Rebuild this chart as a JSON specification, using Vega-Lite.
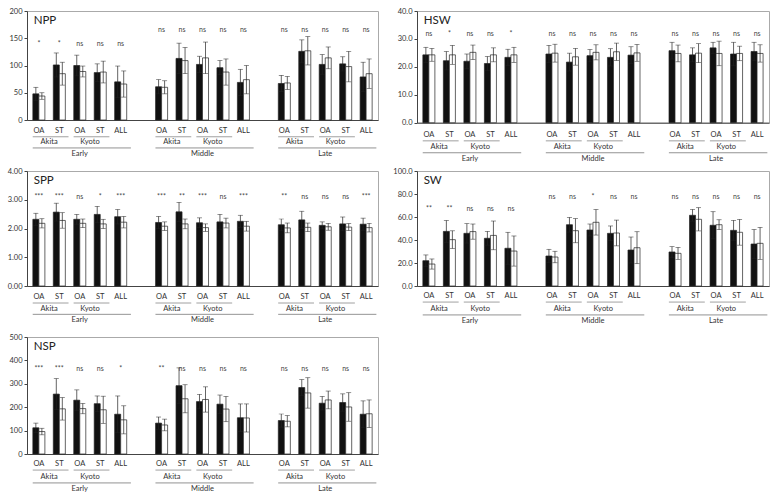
{
"$schema":"https://vega.github.io/schema/vega-lite/v6.json",
"padding":{"left":6,"top":6,"right":0,"bottom":0},
"config":{"font":"Lato","view":{"stroke":"#aaaaaa","strokeWidth":1},"axis":{"labelFontSize":7.5,"labelColor":"#333333","domainColor":"#444444","tickColor":"#444444","tickSize":3,"labelPadding":2,"grid":false},"text":{"font":"Lato"}},
"datasets":{
"bars":[
{"p":"NPP","cat":"E-A-OA","s":"A","v":48,"lo":36,"hi":60},{"p":"NPP","cat":"E-A-OA","s":"B","v":44,"lo":38,"hi":50},
{"p":"NPP","cat":"E-A-ST","s":"A","v":101,"lo":79,"hi":123},{"p":"NPP","cat":"E-A-ST","s":"B","v":85,"lo":64,"hi":106},
{"p":"NPP","cat":"E-K-OA","s":"A","v":100,"lo":81,"hi":119},{"p":"NPP","cat":"E-K-OA","s":"B","v":89,"lo":79,"hi":99},
{"p":"NPP","cat":"E-K-ST","s":"A","v":87,"lo":71,"hi":103},{"p":"NPP","cat":"E-K-ST","s":"B","v":88,"lo":68,"hi":108},
{"p":"NPP","cat":"E-ALL","s":"A","v":70,"lo":41,"hi":99},{"p":"NPP","cat":"E-ALL","s":"B","v":66,"lo":42,"hi":90},
{"p":"NPP","cat":"M-A-OA","s":"A","v":61,"lo":48,"hi":74},{"p":"NPP","cat":"M-A-OA","s":"B","v":60,"lo":48,"hi":72},
{"p":"NPP","cat":"M-A-ST","s":"A","v":113,"lo":85,"hi":141},{"p":"NPP","cat":"M-A-ST","s":"B","v":109,"lo":85,"hi":133},
{"p":"NPP","cat":"M-K-OA","s":"A","v":102,"lo":87,"hi":117},{"p":"NPP","cat":"M-K-OA","s":"B","v":114,"lo":85,"hi":143},
{"p":"NPP","cat":"M-K-ST","s":"A","v":96,"lo":83,"hi":109},{"p":"NPP","cat":"M-K-ST","s":"B","v":88,"lo":64,"hi":112},
{"p":"NPP","cat":"M-ALL","s":"A","v":69,"lo":45,"hi":93},{"p":"NPP","cat":"M-ALL","s":"B","v":74,"lo":48,"hi":100},
{"p":"NPP","cat":"L-A-OA","s":"A","v":67,"lo":52,"hi":82},{"p":"NPP","cat":"L-A-OA","s":"B","v":68,"lo":56,"hi":80},
{"p":"NPP","cat":"L-A-ST","s":"A","v":126,"lo":105,"hi":147},{"p":"NPP","cat":"L-A-ST","s":"B","v":127,"lo":101,"hi":153},
{"p":"NPP","cat":"L-K-OA","s":"A","v":102,"lo":84,"hi":120},{"p":"NPP","cat":"L-K-OA","s":"B","v":114,"lo":94,"hi":134},
{"p":"NPP","cat":"L-K-ST","s":"A","v":103,"lo":90,"hi":116},{"p":"NPP","cat":"L-K-ST","s":"B","v":98,"lo":70,"hi":126},
{"p":"NPP","cat":"L-ALL","s":"A","v":79,"lo":52,"hi":106},{"p":"NPP","cat":"L-ALL","s":"B","v":85,"lo":58,"hi":112},

{"p":"HSW","cat":"E-A-OA","s":"A","v":24.3,"lo":21.6,"hi":27.0},{"p":"HSW","cat":"E-A-OA","s":"B","v":24.3,"lo":22.0,"hi":26.6},
{"p":"HSW","cat":"E-A-ST","s":"A","v":22.2,"lo":18.9,"hi":25.5},{"p":"HSW","cat":"E-A-ST","s":"B","v":24.3,"lo":20.9,"hi":27.7},
{"p":"HSW","cat":"E-K-OA","s":"A","v":22.0,"lo":19.4,"hi":24.6},{"p":"HSW","cat":"E-K-OA","s":"B","v":25.2,"lo":22.6,"hi":27.8},
{"p":"HSW","cat":"E-K-ST","s":"A","v":21.2,"lo":18.7,"hi":23.7},{"p":"HSW","cat":"E-K-ST","s":"B","v":24.3,"lo":21.8,"hi":26.8},
{"p":"HSW","cat":"E-ALL","s":"A","v":23.4,"lo":20.5,"hi":26.3},{"p":"HSW","cat":"E-ALL","s":"B","v":24.3,"lo":21.6,"hi":27.0},
{"p":"HSW","cat":"M-A-OA","s":"A","v":24.6,"lo":21.5,"hi":27.7},{"p":"HSW","cat":"M-A-OA","s":"B","v":24.9,"lo":21.7,"hi":28.1},
{"p":"HSW","cat":"M-A-ST","s":"A","v":21.7,"lo":18.5,"hi":24.9},{"p":"HSW","cat":"M-A-ST","s":"B","v":23.6,"lo":20.6,"hi":26.6},
{"p":"HSW","cat":"M-K-OA","s":"A","v":24.0,"lo":21.8,"hi":26.2},{"p":"HSW","cat":"M-K-OA","s":"B","v":25.2,"lo":22.5,"hi":27.9},
{"p":"HSW","cat":"M-K-ST","s":"A","v":23.4,"lo":20.3,"hi":26.5},{"p":"HSW","cat":"M-K-ST","s":"B","v":25.4,"lo":22.3,"hi":28.5},
{"p":"HSW","cat":"M-ALL","s":"A","v":24.2,"lo":21.2,"hi":27.2},{"p":"HSW","cat":"M-ALL","s":"B","v":25.0,"lo":22.0,"hi":28.0},
{"p":"HSW","cat":"L-A-OA","s":"A","v":25.8,"lo":22.8,"hi":28.8},{"p":"HSW","cat":"L-A-OA","s":"B","v":24.8,"lo":21.8,"hi":27.8},
{"p":"HSW","cat":"L-A-ST","s":"A","v":24.3,"lo":21.8,"hi":26.8},{"p":"HSW","cat":"L-A-ST","s":"B","v":24.9,"lo":21.5,"hi":28.3},
{"p":"HSW","cat":"L-K-OA","s":"A","v":26.8,"lo":24.8,"hi":28.8},{"p":"HSW","cat":"L-K-OA","s":"B","v":24.8,"lo":20.4,"hi":29.2},
{"p":"HSW","cat":"L-K-ST","s":"A","v":24.6,"lo":20.4,"hi":28.8},{"p":"HSW","cat":"L-K-ST","s":"B","v":24.8,"lo":22.2,"hi":27.4},
{"p":"HSW","cat":"L-ALL","s":"A","v":25.5,"lo":22.2,"hi":28.8},{"p":"HSW","cat":"L-ALL","s":"B","v":24.8,"lo":21.7,"hi":27.9},

{"p":"SPP","cat":"E-A-OA","s":"A","v":2.32,"lo":2.11,"hi":2.53},{"p":"SPP","cat":"E-A-OA","s":"B","v":2.18,"lo":2.02,"hi":2.34},
{"p":"SPP","cat":"E-A-ST","s":"A","v":2.57,"lo":2.26,"hi":2.88},{"p":"SPP","cat":"E-A-ST","s":"B","v":2.28,"lo":2.01,"hi":2.55},
{"p":"SPP","cat":"E-K-OA","s":"A","v":2.32,"lo":2.15,"hi":2.49},{"p":"SPP","cat":"E-K-OA","s":"B","v":2.18,"lo":2.03,"hi":2.33},
{"p":"SPP","cat":"E-K-ST","s":"A","v":2.49,"lo":2.21,"hi":2.77},{"p":"SPP","cat":"E-K-ST","s":"B","v":2.16,"lo":2.00,"hi":2.32},
{"p":"SPP","cat":"E-ALL","s":"A","v":2.41,"lo":2.16,"hi":2.66},{"p":"SPP","cat":"E-ALL","s":"B","v":2.22,"lo":2.02,"hi":2.42},
{"p":"SPP","cat":"M-A-OA","s":"A","v":2.21,"lo":2.00,"hi":2.42},{"p":"SPP","cat":"M-A-OA","s":"B","v":2.08,"lo":1.93,"hi":2.23},
{"p":"SPP","cat":"M-A-ST","s":"A","v":2.58,"lo":2.25,"hi":2.91},{"p":"SPP","cat":"M-A-ST","s":"B","v":2.16,"lo":1.99,"hi":2.33},
{"p":"SPP","cat":"M-K-OA","s":"A","v":2.20,"lo":2.03,"hi":2.37},{"p":"SPP","cat":"M-K-OA","s":"B","v":2.03,"lo":1.90,"hi":2.16},
{"p":"SPP","cat":"M-K-ST","s":"A","v":2.23,"lo":1.97,"hi":2.49},{"p":"SPP","cat":"M-K-ST","s":"B","v":2.19,"lo":2.02,"hi":2.36},
{"p":"SPP","cat":"M-ALL","s":"A","v":2.25,"lo":2.04,"hi":2.46},{"p":"SPP","cat":"M-ALL","s":"B","v":2.08,"lo":1.91,"hi":2.25},
{"p":"SPP","cat":"L-A-OA","s":"A","v":2.13,"lo":1.93,"hi":2.33},{"p":"SPP","cat":"L-A-OA","s":"B","v":2.02,"lo":1.85,"hi":2.19},
{"p":"SPP","cat":"L-A-ST","s":"A","v":2.30,"lo":2.00,"hi":2.60},{"p":"SPP","cat":"L-A-ST","s":"B","v":2.04,"lo":1.89,"hi":2.19},
{"p":"SPP","cat":"L-K-OA","s":"A","v":2.11,"lo":1.99,"hi":2.23},{"p":"SPP","cat":"L-K-OA","s":"B","v":2.06,"lo":1.94,"hi":2.18},
{"p":"SPP","cat":"L-K-ST","s":"A","v":2.16,"lo":1.92,"hi":2.40},{"p":"SPP","cat":"L-K-ST","s":"B","v":2.05,"lo":1.93,"hi":2.17},
{"p":"SPP","cat":"L-ALL","s":"A","v":2.15,"lo":1.94,"hi":2.36},{"p":"SPP","cat":"L-ALL","s":"B","v":2.03,"lo":1.88,"hi":2.18},

{"p":"SW","cat":"E-A-OA","s":"A","v":22.0,"lo":17.0,"hi":27.0},{"p":"SW","cat":"E-A-OA","s":"B","v":19.1,"lo":14.7,"hi":23.5},
{"p":"SW","cat":"E-A-ST","s":"A","v":47.5,"lo":38.0,"hi":57.0},{"p":"SW","cat":"E-A-ST","s":"B","v":40.3,"lo":32.6,"hi":48.0},
{"p":"SW","cat":"E-K-OA","s":"A","v":45.8,"lo":37.4,"hi":54.2},{"p":"SW","cat":"E-K-OA","s":"B","v":47.3,"lo":40.7,"hi":53.9},
{"p":"SW","cat":"E-K-ST","s":"A","v":41.5,"lo":35.5,"hi":47.5},{"p":"SW","cat":"E-K-ST","s":"B","v":44.0,"lo":31.5,"hi":56.5},
{"p":"SW","cat":"E-ALL","s":"A","v":32.8,"lo":18.9,"hi":46.7},{"p":"SW","cat":"E-ALL","s":"B","v":30.4,"lo":17.3,"hi":43.5},
{"p":"SW","cat":"M-A-OA","s":"A","v":26.1,"lo":20.3,"hi":31.9},{"p":"SW","cat":"M-A-OA","s":"B","v":25.2,"lo":20.2,"hi":30.2},
{"p":"SW","cat":"M-A-ST","s":"A","v":53.3,"lo":46.9,"hi":59.7},{"p":"SW","cat":"M-A-ST","s":"B","v":48.1,"lo":37.6,"hi":58.6},
{"p":"SW","cat":"M-K-OA","s":"A","v":48.7,"lo":43.5,"hi":53.9},{"p":"SW","cat":"M-K-OA","s":"B","v":55.4,"lo":44.3,"hi":66.5},
{"p":"SW","cat":"M-K-ST","s":"A","v":45.8,"lo":39.4,"hi":52.2},{"p":"SW","cat":"M-K-ST","s":"B","v":46.1,"lo":34.9,"hi":57.3},
{"p":"SW","cat":"M-ALL","s":"A","v":31.3,"lo":20.0,"hi":42.6},{"p":"SW","cat":"M-ALL","s":"B","v":33.3,"lo":19.4,"hi":47.2},
{"p":"SW","cat":"L-A-OA","s":"A","v":29.6,"lo":25.0,"hi":34.2},{"p":"SW","cat":"L-A-OA","s":"B","v":28.4,"lo":23.2,"hi":33.6},
{"p":"SW","cat":"L-A-ST","s":"A","v":61.5,"lo":56.4,"hi":66.6},{"p":"SW","cat":"L-A-ST","s":"B","v":58.0,"lo":47.9,"hi":68.1},
{"p":"SW","cat":"L-K-OA","s":"A","v":52.8,"lo":41.0,"hi":64.6},{"p":"SW","cat":"L-K-OA","s":"B","v":53.3,"lo":49.0,"hi":57.6},
{"p":"SW","cat":"L-K-ST","s":"A","v":48.4,"lo":39.7,"hi":57.1},{"p":"SW","cat":"L-K-ST","s":"B","v":46.7,"lo":35.5,"hi":57.9},
{"p":"SW","cat":"L-ALL","s":"A","v":36.5,"lo":23.9,"hi":49.1},{"p":"SW","cat":"L-ALL","s":"B","v":37.1,"lo":23.2,"hi":51.0},

{"p":"NSP","cat":"E-A-OA","s":"A","v":112,"lo":92,"hi":132},{"p":"NSP","cat":"E-A-OA","s":"B","v":96,"lo":82,"hi":110},
{"p":"NSP","cat":"E-A-ST","s":"A","v":256,"lo":190,"hi":322},{"p":"NSP","cat":"E-A-ST","s":"B","v":193,"lo":145,"hi":241},
{"p":"NSP","cat":"E-K-OA","s":"A","v":230,"lo":186,"hi":274},{"p":"NSP","cat":"E-K-OA","s":"B","v":194,"lo":172,"hi":216},
{"p":"NSP","cat":"E-K-ST","s":"A","v":215,"lo":182,"hi":248},{"p":"NSP","cat":"E-K-ST","s":"B","v":189,"lo":131,"hi":247},
{"p":"NSP","cat":"E-ALL","s":"A","v":170,"lo":92,"hi":248},{"p":"NSP","cat":"E-ALL","s":"B","v":146,"lo":86,"hi":206},
{"p":"NSP","cat":"M-A-OA","s":"A","v":132,"lo":106,"hi":158},{"p":"NSP","cat":"M-A-OA","s":"B","v":124,"lo":99,"hi":149},
{"p":"NSP","cat":"M-A-ST","s":"A","v":292,"lo":216,"hi":368},{"p":"NSP","cat":"M-A-ST","s":"B","v":236,"lo":176,"hi":296},
{"p":"NSP","cat":"M-K-OA","s":"A","v":224,"lo":193,"hi":255},{"p":"NSP","cat":"M-K-OA","s":"B","v":233,"lo":179,"hi":287},
{"p":"NSP","cat":"M-K-ST","s":"A","v":213,"lo":174,"hi":252},{"p":"NSP","cat":"M-K-ST","s":"B","v":192,"lo":138,"hi":246},
{"p":"NSP","cat":"M-ALL","s":"A","v":155,"lo":96,"hi":214},{"p":"NSP","cat":"M-ALL","s":"B","v":154,"lo":94,"hi":214},
{"p":"NSP","cat":"L-A-OA","s":"A","v":143,"lo":115,"hi":171},{"p":"NSP","cat":"L-A-OA","s":"B","v":140,"lo":116,"hi":164},
{"p":"NSP","cat":"L-A-ST","s":"A","v":284,"lo":250,"hi":318},{"p":"NSP","cat":"L-A-ST","s":"B","v":261,"lo":196,"hi":326},
{"p":"NSP","cat":"L-K-OA","s":"A","v":217,"lo":188,"hi":246},{"p":"NSP","cat":"L-K-OA","s":"B","v":231,"lo":193,"hi":269},
{"p":"NSP","cat":"L-K-ST","s":"A","v":220,"lo":183,"hi":257},{"p":"NSP","cat":"L-K-ST","s":"B","v":201,"lo":140,"hi":262},
{"p":"NSP","cat":"L-ALL","s":"A","v":170,"lo":113,"hi":227},{"p":"NSP","cat":"L-ALL","s":"B","v":172,"lo":113,"hi":231}
],
"sig":[
{"p":"NPP","per":"E","cat":"E-A-OA","t":"*"},{"p":"NPP","per":"E","cat":"E-A-ST","t":"*"},{"p":"NPP","per":"E","cat":"E-K-OA","t":"ns"},{"p":"NPP","per":"E","cat":"E-K-ST","t":"ns"},{"p":"NPP","per":"E","cat":"E-ALL","t":"ns"},
{"p":"NPP","per":"M","cat":"M-A-OA","t":"ns"},{"p":"NPP","per":"M","cat":"M-A-ST","t":"ns"},{"p":"NPP","per":"M","cat":"M-K-OA","t":"ns"},{"p":"NPP","per":"M","cat":"M-K-ST","t":"ns"},{"p":"NPP","per":"M","cat":"M-ALL","t":"ns"},
{"p":"NPP","per":"L","cat":"L-A-OA","t":"ns"},{"p":"NPP","per":"L","cat":"L-A-ST","t":"ns"},{"p":"NPP","per":"L","cat":"L-K-OA","t":"ns"},{"p":"NPP","per":"L","cat":"L-K-ST","t":"ns"},{"p":"NPP","per":"L","cat":"L-ALL","t":"ns"},
{"p":"HSW","per":"E","cat":"E-A-OA","t":"ns"},{"p":"HSW","per":"E","cat":"E-A-ST","t":"*"},{"p":"HSW","per":"E","cat":"E-K-OA","t":"ns"},{"p":"HSW","per":"E","cat":"E-K-ST","t":"ns"},{"p":"HSW","per":"E","cat":"E-ALL","t":"*"},
{"p":"HSW","per":"M","cat":"M-A-OA","t":"ns"},{"p":"HSW","per":"M","cat":"M-A-ST","t":"ns"},{"p":"HSW","per":"M","cat":"M-K-OA","t":"ns"},{"p":"HSW","per":"M","cat":"M-K-ST","t":"ns"},{"p":"HSW","per":"M","cat":"M-ALL","t":"ns"},
{"p":"HSW","per":"L","cat":"L-A-OA","t":"ns"},{"p":"HSW","per":"L","cat":"L-A-ST","t":"ns"},{"p":"HSW","per":"L","cat":"L-K-OA","t":"ns"},{"p":"HSW","per":"L","cat":"L-K-ST","t":"ns"},{"p":"HSW","per":"L","cat":"L-ALL","t":"ns"},
{"p":"SPP","per":"E","cat":"E-A-OA","t":"***"},{"p":"SPP","per":"E","cat":"E-A-ST","t":"***"},{"p":"SPP","per":"E","cat":"E-K-OA","t":"ns"},{"p":"SPP","per":"E","cat":"E-K-ST","t":"*"},{"p":"SPP","per":"E","cat":"E-ALL","t":"***"},
{"p":"SPP","per":"M","cat":"M-A-OA","t":"***"},{"p":"SPP","per":"M","cat":"M-A-ST","t":"**"},{"p":"SPP","per":"M","cat":"M-K-OA","t":"***"},{"p":"SPP","per":"M","cat":"M-K-ST","t":"ns"},{"p":"SPP","per":"M","cat":"M-ALL","t":"***"},
{"p":"SPP","per":"L","cat":"L-A-OA","t":"**"},{"p":"SPP","per":"L","cat":"L-A-ST","t":"ns"},{"p":"SPP","per":"L","cat":"L-K-OA","t":"ns"},{"p":"SPP","per":"L","cat":"L-K-ST","t":"ns"},{"p":"SPP","per":"L","cat":"L-ALL","t":"***"},
{"p":"SW","per":"E","cat":"E-A-OA","t":"**"},{"p":"SW","per":"E","cat":"E-A-ST","t":"**"},{"p":"SW","per":"E","cat":"E-K-OA","t":"ns"},{"p":"SW","per":"E","cat":"E-K-ST","t":"ns"},{"p":"SW","per":"E","cat":"E-ALL","t":"ns"},
{"p":"SW","per":"M","cat":"M-A-OA","t":"ns"},{"p":"SW","per":"M","cat":"M-A-ST","t":"ns"},{"p":"SW","per":"M","cat":"M-K-OA","t":"*"},{"p":"SW","per":"M","cat":"M-K-ST","t":"ns"},{"p":"SW","per":"M","cat":"M-ALL","t":"ns"},
{"p":"SW","per":"L","cat":"L-A-OA","t":"ns"},{"p":"SW","per":"L","cat":"L-A-ST","t":"ns"},{"p":"SW","per":"L","cat":"L-K-OA","t":"ns"},{"p":"SW","per":"L","cat":"L-K-ST","t":"ns"},{"p":"SW","per":"L","cat":"L-ALL","t":"ns"},
{"p":"NSP","per":"E","cat":"E-A-OA","t":"***"},{"p":"NSP","per":"E","cat":"E-A-ST","t":"***"},{"p":"NSP","per":"E","cat":"E-K-OA","t":"ns"},{"p":"NSP","per":"E","cat":"E-K-ST","t":"ns"},{"p":"NSP","per":"E","cat":"E-ALL","t":"*"},
{"p":"NSP","per":"M","cat":"M-A-OA","t":"**"},{"p":"NSP","per":"M","cat":"M-A-ST","t":"ns"},{"p":"NSP","per":"M","cat":"M-K-OA","t":"ns"},{"p":"NSP","per":"M","cat":"M-K-ST","t":"ns"},{"p":"NSP","per":"M","cat":"M-ALL","t":"ns"},
{"p":"NSP","per":"L","cat":"L-A-OA","t":"ns"},{"p":"NSP","per":"L","cat":"L-A-ST","t":"ns"},{"p":"NSP","per":"L","cat":"L-K-OA","t":"ns"},{"p":"NSP","per":"L","cat":"L-K-ST","t":"ns"},{"p":"NSP","per":"L","cat":"L-ALL","t":"ns"}
],
"labs":[
{"k":"c","a":"E-A-OA","t":"OA"},{"k":"c","a":"E-A-ST","t":"ST"},{"k":"c","a":"E-K-OA","t":"OA"},{"k":"c","a":"E-K-ST","t":"ST"},{"k":"c","a":"E-ALL","t":"ALL"},
{"k":"c","a":"M-A-OA","t":"OA"},{"k":"c","a":"M-A-ST","t":"ST"},{"k":"c","a":"M-K-OA","t":"OA"},{"k":"c","a":"M-K-ST","t":"ST"},{"k":"c","a":"M-ALL","t":"ALL"},
{"k":"c","a":"L-A-OA","t":"OA"},{"k":"c","a":"L-A-ST","t":"ST"},{"k":"c","a":"L-K-OA","t":"OA"},{"k":"c","a":"L-K-ST","t":"ST"},{"k":"c","a":"L-ALL","t":"ALL"},
{"k":"s","a":"E-A-OA","b":"E-A-ST","t":"Akita"},{"k":"s","a":"E-K-OA","b":"E-K-ST","t":"Kyoto"},
{"k":"s","a":"M-A-OA","b":"M-A-ST","t":"Akita"},{"k":"s","a":"M-K-OA","b":"M-K-ST","t":"Kyoto"},
{"k":"s","a":"L-A-OA","b":"L-A-ST","t":"Akita"},{"k":"s","a":"L-K-OA","b":"L-K-ST","t":"Kyoto"},
{"k":"p","a":"E-A-OA","b":"E-ALL","m":"E-K-OA","t":"Early"},
{"k":"p","a":"M-A-OA","b":"M-ALL","m":"M-K-OA","t":"Middle"},
{"k":"p","a":"L-A-OA","b":"L-ALL","m":"L-K-OA","t":"Late"}
]
},
"spacing":13,
"hconcat":[
{"bounds":"flush","spacing":0,"vconcat":[
  {"width":351,"height":109,"layer":[
   {"data":{"name":"bars"},"transform":[{"filter":"datum.p=='NPP'"}],"mark":{"type":"bar","stroke":"#222222","strokeWidth":0.7},
    "encoding":{"x":{"field":"cat","type":"nominal","title":null,"scale":{"domain":["E-A-OA","E-A-ST","E-K-OA","E-K-ST","E-ALL","g1","M-A-OA","M-A-ST","M-K-OA","M-K-ST","M-ALL","g2","L-A-OA","L-A-ST","L-K-OA","L-K-ST","L-ALL"],"paddingInner":0,"paddingOuter":0.08},"axis":{"labels":false,"ticks":false,"domainColor":"#444444"}},
     "xOffset":{"field":"s","type":"nominal","scale":{"domain":["A","B"],"paddingInner":0,"paddingOuter":0.7}},
     "y":{"field":"v","type":"quantitative","title":null,"scale":{"domain":[0,200],"nice":false},"axis":{"values":[0,50,100,150,200],"format":"d","labelOverlap":false}},
     "fill":{"field":"s","type":"nominal","scale":{"domain":["A","B"],"range":["#111111","#ffffff"]},"legend":null}}},
   {"data":{"name":"bars"},"transform":[{"filter":"datum.p=='NPP'"}],"mark":{"type":"rule","color":"#222222","strokeWidth":0.7},
    "encoding":{"x":{"field":"cat","type":"nominal","title":null},"xOffset":{"field":"s","type":"nominal"},"y":{"field":"lo","type":"quantitative","title":null,"axis":{"values":[0,50,100,150,200],"format":"d","labelOverlap":false}},"y2":{"field":"hi"}}},
   {"data":{"name":"bars"},"transform":[{"filter":"datum.p=='NPP'"}],"mark":{"type":"tick","color":"#222222","size":5,"thickness":0.7},
    "encoding":{"x":{"field":"cat","type":"nominal","title":null},"xOffset":{"field":"s","type":"nominal"},"y":{"field":"hi","type":"quantitative","title":null,"axis":{"values":[0,50,100,150,200],"format":"d","labelOverlap":false}}}},
   {"data":{"name":"bars"},"transform":[{"filter":"datum.p=='NPP'"}],"mark":{"type":"tick","color":"#222222","size":5,"thickness":0.7},
    "encoding":{"x":{"field":"cat","type":"nominal","title":null},"xOffset":{"field":"s","type":"nominal"},"y":{"field":"lo","type":"quantitative","title":null,"axis":{"values":[0,50,100,150,200],"format":"d","labelOverlap":false}}}},
   {"data":{"name":"sig"},"transform":[{"filter":"datum.p=='NPP' && datum.per=='E'"}],"mark":{"type":"text","fontSize":7,"color":"#444444"},
    "encoding":{"x":{"field":"cat","type":"nominal","title":null},"y":{"datum":139,"axis":{"values":[0,50,100,150,200],"format":"d","labelOverlap":false}},"text":{"field":"t"}}},
   {"data":{"name":"sig"},"transform":[{"filter":"datum.p=='NPP' && datum.per!='E'"}],"mark":{"type":"text","fontSize":7,"color":"#444444"},
    "encoding":{"x":{"field":"cat","type":"nominal","title":null},"y":{"datum":165,"axis":{"values":[0,50,100,150,200],"format":"d","labelOverlap":false}},"text":{"field":"t"}}},
   {"data":{"values":[{"t":"NPP"}]},"mark":{"type":"text","fontSize":11.5,"align":"left","baseline":"top","dx":5,"dy":4,"color":"#222222"},
    "encoding":{"x":{"datum":"E-A-OA","type":"nominal","bandPosition":0},"y":{"datum":200,"axis":{"values":[0,50,100,150,200],"format":"d","labelOverlap":false}},"text":{"field":"t"}}}
  ]},
  {"width":351,"height":50.3,"view":{"stroke":null},"data":{"name":"labs"},"layer":[
   {"transform":[{"filter":"datum.k=='c'"}],"mark":{"type":"text","fontSize":7.5,"color":"#333333"},
    "encoding":{"x":{"field":"a","type":"nominal","axis":null,"scale":{"domain":["E-A-OA","E-A-ST","E-K-OA","E-K-ST","E-ALL","g1","M-A-OA","M-A-ST","M-K-OA","M-K-ST","M-ALL","g2","L-A-OA","L-A-ST","L-K-OA","L-K-ST","L-ALL"],"paddingInner":0,"paddingOuter":0.08}},"y":{"datum":1,"type":"quantitative","axis":null,"scale":{"domain":[-0.3,7.24],"reverse":true}},"text":{"field":"t"}}},
   {"transform":[{"filter":"datum.k=='s'"}],"mark":{"type":"rule","color":"#888888","strokeWidth":0.8},
    "encoding":{"x":{"field":"a","type":"nominal","bandPosition":0.2},"x2":{"field":"b","bandPosition":0.95},"y":{"datum":2,"type":"quantitative"}}},
   {"transform":[{"filter":"datum.k=='s'"}],"mark":{"type":"text","fontSize":7.5,"color":"#333333"},
    "encoding":{"x":{"field":"a","type":"nominal","bandPosition":1},"y":{"datum":3,"type":"quantitative"},"text":{"field":"t"}}},
   {"transform":[{"filter":"datum.k=='p'"}],"mark":{"type":"rule","color":"#777777","strokeWidth":0.8},
    "encoding":{"x":{"field":"a","type":"nominal","bandPosition":0.2},"x2":{"field":"b","bandPosition":1},"y":{"datum":4,"type":"quantitative"}}},
   {"transform":[{"filter":"datum.k=='p'"}],"mark":{"type":"text","fontSize":7.5,"color":"#333333"},
    "encoding":{"x":{"field":"m","type":"nominal"},"y":{"datum":5,"type":"quantitative"},"text":{"field":"t"}}}
  ]},
  {"width":351,"height":115,"layer":[
   {"data":{"name":"bars"},"transform":[{"filter":"datum.p=='SPP'"}],"mark":{"type":"bar","stroke":"#222222","strokeWidth":0.7},
    "encoding":{"x":{"field":"cat","type":"nominal","title":null,"scale":{"domain":["E-A-OA","E-A-ST","E-K-OA","E-K-ST","E-ALL","g1","M-A-OA","M-A-ST","M-K-OA","M-K-ST","M-ALL","g2","L-A-OA","L-A-ST","L-K-OA","L-K-ST","L-ALL"],"paddingInner":0,"paddingOuter":0.08},"axis":{"labels":false,"ticks":false,"domainColor":"#444444"}},
     "xOffset":{"field":"s","type":"nominal","scale":{"domain":["A","B"],"paddingInner":0,"paddingOuter":0.7}},
     "y":{"field":"v","type":"quantitative","title":null,"scale":{"domain":[0,4],"nice":false},"axis":{"values":[0,1,2,3,4],"format":".2f","labelOverlap":false}},
     "fill":{"field":"s","type":"nominal","scale":{"domain":["A","B"],"range":["#111111","#ffffff"]},"legend":null}}},
   {"data":{"name":"bars"},"transform":[{"filter":"datum.p=='SPP'"}],"mark":{"type":"rule","color":"#222222","strokeWidth":0.7},
    "encoding":{"x":{"field":"cat","type":"nominal","title":null},"xOffset":{"field":"s","type":"nominal"},"y":{"field":"lo","type":"quantitative","title":null,"axis":{"values":[0,1,2,3,4],"format":".2f","labelOverlap":false}},"y2":{"field":"hi"}}},
   {"data":{"name":"bars"},"transform":[{"filter":"datum.p=='SPP'"}],"mark":{"type":"tick","color":"#222222","size":5,"thickness":0.7},
    "encoding":{"x":{"field":"cat","type":"nominal","title":null},"xOffset":{"field":"s","type":"nominal"},"y":{"field":"hi","type":"quantitative","title":null,"axis":{"values":[0,1,2,3,4],"format":".2f","labelOverlap":false}}}},
   {"data":{"name":"bars"},"transform":[{"filter":"datum.p=='SPP'"}],"mark":{"type":"tick","color":"#222222","size":5,"thickness":0.7},
    "encoding":{"x":{"field":"cat","type":"nominal","title":null},"xOffset":{"field":"s","type":"nominal"},"y":{"field":"lo","type":"quantitative","title":null,"axis":{"values":[0,1,2,3,4],"format":".2f","labelOverlap":false}}}},
   {"data":{"name":"sig"},"transform":[{"filter":"datum.p=='SPP'"}],"mark":{"type":"text","fontSize":7,"color":"#444444"},
    "encoding":{"x":{"field":"cat","type":"nominal","title":null},"y":{"datum":3.09,"axis":{"values":[0,1,2,3,4],"format":".2f","labelOverlap":false}},"text":{"field":"t"}}},
   {"data":{"values":[{"t":"SPP"}]},"mark":{"type":"text","fontSize":11.5,"align":"left","baseline":"top","dx":5,"dy":4,"color":"#222222"},
    "encoding":{"x":{"datum":"E-A-OA","type":"nominal","bandPosition":0},"y":{"datum":4,"axis":{"values":[0,1,2,3,4],"format":".2f","labelOverlap":false}},"text":{"field":"t"}}}
  ]},
  {"width":351,"height":51,"view":{"stroke":null},"data":{"name":"labs"},"layer":[
   {"transform":[{"filter":"datum.k=='c'"}],"mark":{"type":"text","fontSize":7.5,"color":"#333333"},
    "encoding":{"x":{"field":"a","type":"nominal","axis":null,"scale":{"domain":["E-A-OA","E-A-ST","E-K-OA","E-K-ST","E-ALL","g1","M-A-OA","M-A-ST","M-K-OA","M-K-ST","M-ALL","g2","L-A-OA","L-A-ST","L-K-OA","L-K-ST","L-ALL"],"paddingInner":0,"paddingOuter":0.08}},"y":{"datum":1,"type":"quantitative","axis":null,"scale":{"domain":[-0.3,7.35],"reverse":true}},"text":{"field":"t"}}},
   {"transform":[{"filter":"datum.k=='s'"}],"mark":{"type":"rule","color":"#888888","strokeWidth":0.8},
    "encoding":{"x":{"field":"a","type":"nominal","bandPosition":0.2},"x2":{"field":"b","bandPosition":0.95},"y":{"datum":2,"type":"quantitative"}}},
   {"transform":[{"filter":"datum.k=='s'"}],"mark":{"type":"text","fontSize":7.5,"color":"#333333"},
    "encoding":{"x":{"field":"a","type":"nominal","bandPosition":1},"y":{"datum":3,"type":"quantitative"},"text":{"field":"t"}}},
   {"transform":[{"filter":"datum.k=='p'"}],"mark":{"type":"rule","color":"#777777","strokeWidth":0.8},
    "encoding":{"x":{"field":"a","type":"nominal","bandPosition":0.2},"x2":{"field":"b","bandPosition":1},"y":{"datum":4,"type":"quantitative"}}},
   {"transform":[{"filter":"datum.k=='p'"}],"mark":{"type":"text","fontSize":7.5,"color":"#333333"},
    "encoding":{"x":{"field":"m","type":"nominal"},"y":{"datum":5,"type":"quantitative"},"text":{"field":"t"}}}
  ]},
  {"width":351,"height":117,"layer":[
   {"data":{"name":"bars"},"transform":[{"filter":"datum.p=='NSP'"}],"mark":{"type":"bar","stroke":"#222222","strokeWidth":0.7},
    "encoding":{"x":{"field":"cat","type":"nominal","title":null,"scale":{"domain":["E-A-OA","E-A-ST","E-K-OA","E-K-ST","E-ALL","g1","M-A-OA","M-A-ST","M-K-OA","M-K-ST","M-ALL","g2","L-A-OA","L-A-ST","L-K-OA","L-K-ST","L-ALL"],"paddingInner":0,"paddingOuter":0.08},"axis":{"labels":false,"ticks":false,"domainColor":"#444444"}},
     "xOffset":{"field":"s","type":"nominal","scale":{"domain":["A","B"],"paddingInner":0,"paddingOuter":0.7}},
     "y":{"field":"v","type":"quantitative","title":null,"scale":{"domain":[0,500],"nice":false},"axis":{"values":[0,100,200,300,400,500],"format":"d","labelOverlap":false}},
     "fill":{"field":"s","type":"nominal","scale":{"domain":["A","B"],"range":["#111111","#ffffff"]},"legend":null}}},
   {"data":{"name":"bars"},"transform":[{"filter":"datum.p=='NSP'"}],"mark":{"type":"rule","color":"#222222","strokeWidth":0.7},
    "encoding":{"x":{"field":"cat","type":"nominal","title":null},"xOffset":{"field":"s","type":"nominal"},"y":{"field":"lo","type":"quantitative","title":null,"axis":{"values":[0,100,200,300,400,500],"format":"d","labelOverlap":false}},"y2":{"field":"hi"}}},
   {"data":{"name":"bars"},"transform":[{"filter":"datum.p=='NSP'"}],"mark":{"type":"tick","color":"#222222","size":5,"thickness":0.7},
    "encoding":{"x":{"field":"cat","type":"nominal","title":null},"xOffset":{"field":"s","type":"nominal"},"y":{"field":"hi","type":"quantitative","title":null,"axis":{"values":[0,100,200,300,400,500],"format":"d","labelOverlap":false}}}},
   {"data":{"name":"bars"},"transform":[{"filter":"datum.p=='NSP'"}],"mark":{"type":"tick","color":"#222222","size":5,"thickness":0.7},
    "encoding":{"x":{"field":"cat","type":"nominal","title":null},"xOffset":{"field":"s","type":"nominal"},"y":{"field":"lo","type":"quantitative","title":null,"axis":{"values":[0,100,200,300,400,500],"format":"d","labelOverlap":false}}}},
   {"data":{"name":"sig"},"transform":[{"filter":"datum.p=='NSP'"}],"mark":{"type":"text","fontSize":7,"color":"#444444"},
    "encoding":{"x":{"field":"cat","type":"nominal","title":null},"y":{"datum":362,"axis":{"values":[0,100,200,300,400,500],"format":"d","labelOverlap":false}},"text":{"field":"t"}}},
   {"data":{"values":[{"t":"NSP"}]},"mark":{"type":"text","fontSize":11.5,"align":"left","baseline":"top","dx":5,"dy":4,"color":"#222222"},
    "encoding":{"x":{"datum":"E-A-OA","type":"nominal","bandPosition":0},"y":{"datum":500,"axis":{"values":[0,100,200,300,400,500],"format":"d","labelOverlap":false}},"text":{"field":"t"}}}
  ]},
  {"width":351,"height":45,"view":{"stroke":null},"data":{"name":"labs"},"layer":[
   {"transform":[{"filter":"datum.k=='c'"}],"mark":{"type":"text","fontSize":7.5,"color":"#333333"},
    "encoding":{"x":{"field":"a","type":"nominal","axis":null,"scale":{"domain":["E-A-OA","E-A-ST","E-K-OA","E-K-ST","E-ALL","g1","M-A-OA","M-A-ST","M-K-OA","M-K-ST","M-ALL","g2","L-A-OA","L-A-ST","L-K-OA","L-K-ST","L-ALL"],"paddingInner":0,"paddingOuter":0.08}},"y":{"datum":1,"type":"quantitative","axis":null,"scale":{"domain":[-0.3,6.45],"reverse":true}},"text":{"field":"t"}}},
   {"transform":[{"filter":"datum.k=='s'"}],"mark":{"type":"rule","color":"#888888","strokeWidth":0.8},
    "encoding":{"x":{"field":"a","type":"nominal","bandPosition":0.2},"x2":{"field":"b","bandPosition":0.95},"y":{"datum":2,"type":"quantitative"}}},
   {"transform":[{"filter":"datum.k=='s'"}],"mark":{"type":"text","fontSize":7.5,"color":"#333333"},
    "encoding":{"x":{"field":"a","type":"nominal","bandPosition":1},"y":{"datum":3,"type":"quantitative"},"text":{"field":"t"}}},
   {"transform":[{"filter":"datum.k=='p'"}],"mark":{"type":"rule","color":"#777777","strokeWidth":0.8},
    "encoding":{"x":{"field":"a","type":"nominal","bandPosition":0.2},"x2":{"field":"b","bandPosition":1},"y":{"datum":4,"type":"quantitative"}}},
   {"transform":[{"filter":"datum.k=='p'"}],"mark":{"type":"text","fontSize":7.5,"color":"#333333"},
    "encoding":{"x":{"field":"m","type":"nominal"},"y":{"datum":5,"type":"quantitative"},"text":{"field":"t"}}}
  ]}
]},
{"bounds":"flush","spacing":0,"vconcat":[
  {"width":352,"height":111.7,"layer":[
   {"data":{"name":"bars"},"transform":[{"filter":"datum.p=='HSW'"}],"mark":{"type":"bar","stroke":"#222222","strokeWidth":0.7},
    "encoding":{"x":{"field":"cat","type":"nominal","title":null,"scale":{"domain":["E-A-OA","E-A-ST","E-K-OA","E-K-ST","E-ALL","g1","M-A-OA","M-A-ST","M-K-OA","M-K-ST","M-ALL","g2","L-A-OA","L-A-ST","L-K-OA","L-K-ST","L-ALL"],"paddingInner":0,"paddingOuter":0.08},"axis":{"labels":false,"ticks":false,"domainColor":"#444444"}},
     "xOffset":{"field":"s","type":"nominal","scale":{"domain":["A","B"],"paddingInner":0,"paddingOuter":0.7}},
     "y":{"field":"v","type":"quantitative","title":null,"scale":{"domain":[0,40],"nice":false},"axis":{"values":[0,10,20,30,40],"format":".1f","labelOverlap":false}},
     "fill":{"field":"s","type":"nominal","scale":{"domain":["A","B"],"range":["#111111","#ffffff"]},"legend":null}}},
   {"data":{"name":"bars"},"transform":[{"filter":"datum.p=='HSW'"}],"mark":{"type":"rule","color":"#222222","strokeWidth":0.7},
    "encoding":{"x":{"field":"cat","type":"nominal","title":null},"xOffset":{"field":"s","type":"nominal"},"y":{"field":"lo","type":"quantitative","title":null,"axis":{"values":[0,10,20,30,40],"format":".1f","labelOverlap":false}},"y2":{"field":"hi"}}},
   {"data":{"name":"bars"},"transform":[{"filter":"datum.p=='HSW'"}],"mark":{"type":"tick","color":"#222222","size":5,"thickness":0.7},
    "encoding":{"x":{"field":"cat","type":"nominal","title":null},"xOffset":{"field":"s","type":"nominal"},"y":{"field":"hi","type":"quantitative","title":null,"axis":{"values":[0,10,20,30,40],"format":".1f","labelOverlap":false}}}},
   {"data":{"name":"bars"},"transform":[{"filter":"datum.p=='HSW'"}],"mark":{"type":"tick","color":"#222222","size":5,"thickness":0.7},
    "encoding":{"x":{"field":"cat","type":"nominal","title":null},"xOffset":{"field":"s","type":"nominal"},"y":{"field":"lo","type":"quantitative","title":null,"axis":{"values":[0,10,20,30,40],"format":".1f","labelOverlap":false}}}},
   {"data":{"name":"sig"},"transform":[{"filter":"datum.p=='HSW'"}],"mark":{"type":"text","fontSize":7,"color":"#444444"},
    "encoding":{"x":{"field":"cat","type":"nominal","title":null},"y":{"datum":31.6,"axis":{"values":[0,10,20,30,40],"format":".1f","labelOverlap":false}},"text":{"field":"t"}}},
   {"data":{"values":[{"t":"HSW"}]},"mark":{"type":"text","fontSize":11.5,"align":"left","baseline":"top","dx":5,"dy":4,"color":"#222222"},
    "encoding":{"x":{"datum":"E-A-OA","type":"nominal","bandPosition":0},"y":{"datum":40,"axis":{"values":[0,10,20,30,40],"format":".1f","labelOverlap":false}},"text":{"field":"t"}}}
  ]},
  {"width":352,"height":47.6,"view":{"stroke":null},"data":{"name":"labs"},"layer":[
   {"transform":[{"filter":"datum.k=='c'"}],"mark":{"type":"text","fontSize":7.5,"color":"#333333"},
    "encoding":{"x":{"field":"a","type":"nominal","axis":null,"scale":{"domain":["E-A-OA","E-A-ST","E-K-OA","E-K-ST","E-ALL","g1","M-A-OA","M-A-ST","M-K-OA","M-K-ST","M-ALL","g2","L-A-OA","L-A-ST","L-K-OA","L-K-ST","L-ALL"],"paddingInner":0,"paddingOuter":0.08}},"y":{"datum":1,"type":"quantitative","axis":null,"scale":{"domain":[-0.3,6.84],"reverse":true}},"text":{"field":"t"}}},
   {"transform":[{"filter":"datum.k=='s'"}],"mark":{"type":"rule","color":"#888888","strokeWidth":0.8},
    "encoding":{"x":{"field":"a","type":"nominal","bandPosition":0.2},"x2":{"field":"b","bandPosition":0.95},"y":{"datum":2,"type":"quantitative"}}},
   {"transform":[{"filter":"datum.k=='s'"}],"mark":{"type":"text","fontSize":7.5,"color":"#333333"},
    "encoding":{"x":{"field":"a","type":"nominal","bandPosition":1},"y":{"datum":3,"type":"quantitative"},"text":{"field":"t"}}},
   {"transform":[{"filter":"datum.k=='p'"}],"mark":{"type":"rule","color":"#777777","strokeWidth":0.8},
    "encoding":{"x":{"field":"a","type":"nominal","bandPosition":0.2},"x2":{"field":"b","bandPosition":1},"y":{"datum":4,"type":"quantitative"}}},
   {"transform":[{"filter":"datum.k=='p'"}],"mark":{"type":"text","fontSize":7.5,"color":"#333333"},
    "encoding":{"x":{"field":"m","type":"nominal"},"y":{"datum":5,"type":"quantitative"},"text":{"field":"t"}}}
  ]},
  {"width":352,"height":115,"layer":[
   {"data":{"name":"bars"},"transform":[{"filter":"datum.p=='SW'"}],"mark":{"type":"bar","stroke":"#222222","strokeWidth":0.7},
    "encoding":{"x":{"field":"cat","type":"nominal","title":null,"scale":{"domain":["E-A-OA","E-A-ST","E-K-OA","E-K-ST","E-ALL","g1","M-A-OA","M-A-ST","M-K-OA","M-K-ST","M-ALL","g2","L-A-OA","L-A-ST","L-K-OA","L-K-ST","L-ALL"],"paddingInner":0,"paddingOuter":0.08},"axis":{"labels":false,"ticks":false,"domainColor":"#444444"}},
     "xOffset":{"field":"s","type":"nominal","scale":{"domain":["A","B"],"paddingInner":0,"paddingOuter":0.7}},
     "y":{"field":"v","type":"quantitative","title":null,"scale":{"domain":[0,100],"nice":false},"axis":{"values":[0,20,40,60,80,100],"format":".1f","labelOverlap":false}},
     "fill":{"field":"s","type":"nominal","scale":{"domain":["A","B"],"range":["#111111","#ffffff"]},"legend":null}}},
   {"data":{"name":"bars"},"transform":[{"filter":"datum.p=='SW'"}],"mark":{"type":"rule","color":"#222222","strokeWidth":0.7},
    "encoding":{"x":{"field":"cat","type":"nominal","title":null},"xOffset":{"field":"s","type":"nominal"},"y":{"field":"lo","type":"quantitative","title":null,"axis":{"values":[0,20,40,60,80,100],"format":".1f","labelOverlap":false}},"y2":{"field":"hi"}}},
   {"data":{"name":"bars"},"transform":[{"filter":"datum.p=='SW'"}],"mark":{"type":"tick","color":"#222222","size":5,"thickness":0.7},
    "encoding":{"x":{"field":"cat","type":"nominal","title":null},"xOffset":{"field":"s","type":"nominal"},"y":{"field":"hi","type":"quantitative","title":null,"axis":{"values":[0,20,40,60,80,100],"format":".1f","labelOverlap":false}}}},
   {"data":{"name":"bars"},"transform":[{"filter":"datum.p=='SW'"}],"mark":{"type":"tick","color":"#222222","size":5,"thickness":0.7},
    "encoding":{"x":{"field":"cat","type":"nominal","title":null},"xOffset":{"field":"s","type":"nominal"},"y":{"field":"lo","type":"quantitative","title":null,"axis":{"values":[0,20,40,60,80,100],"format":".1f","labelOverlap":false}}}},
   {"data":{"name":"sig"},"transform":[{"filter":"datum.p=='SW' && datum.per=='E'"}],"mark":{"type":"text","fontSize":7,"color":"#444444"},
    "encoding":{"x":{"field":"cat","type":"nominal","title":null},"y":{"datum":66.8,"axis":{"values":[0,20,40,60,80,100],"format":".1f","labelOverlap":false}},"text":{"field":"t"}}},
   {"data":{"name":"sig"},"transform":[{"filter":"datum.p=='SW' && datum.per!='E'"}],"mark":{"type":"text","fontSize":7,"color":"#444444"},
    "encoding":{"x":{"field":"cat","type":"nominal","title":null},"y":{"datum":77,"axis":{"values":[0,20,40,60,80,100],"format":".1f","labelOverlap":false}},"text":{"field":"t"}}},
   {"data":{"values":[{"t":"SW"}]},"mark":{"type":"text","fontSize":11.5,"align":"left","baseline":"top","dx":5,"dy":4,"color":"#222222"},
    "encoding":{"x":{"datum":"E-A-OA","type":"nominal","bandPosition":0},"y":{"datum":100,"axis":{"values":[0,20,40,60,80,100],"format":".1f","labelOverlap":false}},"text":{"field":"t"}}}
  ]},
  {"width":352,"height":45,"view":{"stroke":null},"data":{"name":"labs"},"layer":[
   {"transform":[{"filter":"datum.k=='c'"}],"mark":{"type":"text","fontSize":7.5,"color":"#333333"},
    "encoding":{"x":{"field":"a","type":"nominal","axis":null,"scale":{"domain":["E-A-OA","E-A-ST","E-K-OA","E-K-ST","E-ALL","g1","M-A-OA","M-A-ST","M-K-OA","M-K-ST","M-ALL","g2","L-A-OA","L-A-ST","L-K-OA","L-K-ST","L-ALL"],"paddingInner":0,"paddingOuter":0.08}},"y":{"datum":1,"type":"quantitative","axis":null,"scale":{"domain":[-0.3,6.45],"reverse":true}},"text":{"field":"t"}}},
   {"transform":[{"filter":"datum.k=='s'"}],"mark":{"type":"rule","color":"#888888","strokeWidth":0.8},
    "encoding":{"x":{"field":"a","type":"nominal","bandPosition":0.2},"x2":{"field":"b","bandPosition":0.95},"y":{"datum":2,"type":"quantitative"}}},
   {"transform":[{"filter":"datum.k=='s'"}],"mark":{"type":"text","fontSize":7.5,"color":"#333333"},
    "encoding":{"x":{"field":"a","type":"nominal","bandPosition":1},"y":{"datum":3,"type":"quantitative"},"text":{"field":"t"}}},
   {"transform":[{"filter":"datum.k=='p'"}],"mark":{"type":"rule","color":"#777777","strokeWidth":0.8},
    "encoding":{"x":{"field":"a","type":"nominal","bandPosition":0.2},"x2":{"field":"b","bandPosition":1},"y":{"datum":4,"type":"quantitative"}}},
   {"transform":[{"filter":"datum.k=='p'"}],"mark":{"type":"text","fontSize":7.5,"color":"#333333"},
    "encoding":{"x":{"field":"m","type":"nominal"},"y":{"datum":5,"type":"quantitative"},"text":{"field":"t"}}}
  ]}
]}
]
}
